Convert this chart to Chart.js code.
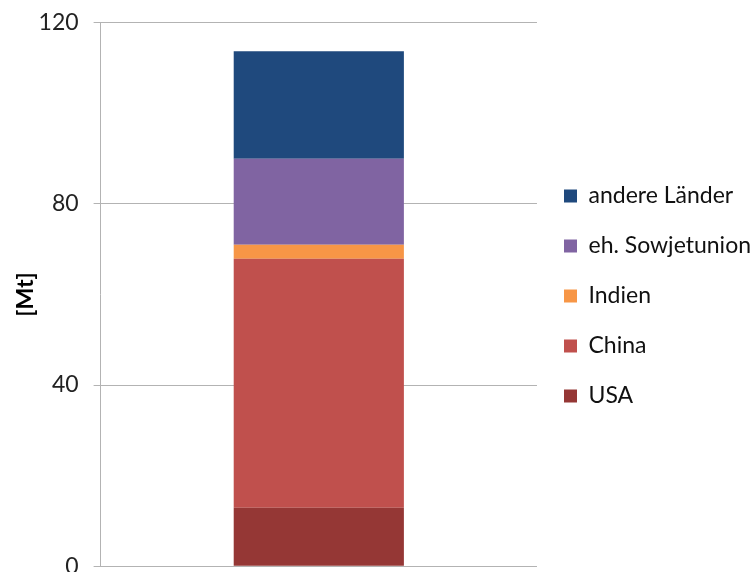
<!DOCTYPE html>
<html lang="de">
<head>
<meta charset="utf-8">
<title>[Mt]</title>
<script src="https://cdn.jsdelivr.net/npm/chart.js@4.4.1/dist/chart.umd.min.js"></script>
<style>
  html, body { margin: 0; padding: 0; background: #fff; overflow: hidden; }
  #wrap { position: relative; width: 753px; height: 601px; margin-top: -6px; }
</style>
</head>
<body>
<div id="wrap"><canvas id="chart"></canvas></div>
<script>
  // Werte (Mt)
  const categories = [''];
  const seriesNames = ['USA', 'China', 'Indien', 'eh. Sowjetunion', 'andere Länder'];
  const usa        = [12.9];
  const china      = [55.0];
  const indien     = [3.1];
  const sowjet     = [19.0];
  const andere     = [23.7];
  const yTicks     = [0, 40, 80, 120];

  const COLORS = ['#953735', '#C0504D', '#F79646', '#8064A2', '#1F497D'];
  const GRID = '#B3B3B3';
  const FONT = 'Lato, "Open Sans", sans-serif';

  const seriesValues = [usa, china, indien, sowjet, andere];

  new Chart(document.getElementById('chart'), {
    type: 'bar',
    data: {
      labels: categories,
      datasets: seriesNames.map((name, i) => ({
        label: name,
        data: seriesValues[i],
        backgroundColor: COLORS[i],
        borderWidth: 0,
        categoryPercentage: 1,
        barPercentage: 0.39,
      })),
    },
    options: {
      responsive: true,
      maintainAspectRatio: false,
      animation: false,
      layout: { padding: { top: 3, left: 12, right: -8, bottom: 0 } },
      plugins: {
        tooltip: { enabled: false },
        legend: {
          position: 'right',
          align: 'center',
          reverse: true,
          maxWidth: 400,
          labels: {
            boxWidth: 13,
            boxHeight: 13,
            padding: 27,
            color: '#111',
            font: { family: FONT, size: 23 },
          },
        },
      },
      scales: {
        x: { stacked: true, display: false },
        y: {
          stacked: true,
          min: 0,
          max: 120,
          afterBuildTicks: (scale) => { scale.ticks = yTicks.map(v => ({ value: v })); },
          border: { color: GRID, width: 1 },
          grid: { color: GRID, lineWidth: 1, tickLength: 7, drawTicks: true },
          ticks: {
            padding: 15,
            color: '#222',
            font: { family: FONT, size: 23 },
          },
          title: {
            display: true,
            text: '[Mt]',
            color: '#000',
            padding: { top: 0, bottom: -16 },
            font: { family: FONT, size: 23, weight: 'bold' },
          },
        },
      },
    },
  });
</script>
</body>
</html>
